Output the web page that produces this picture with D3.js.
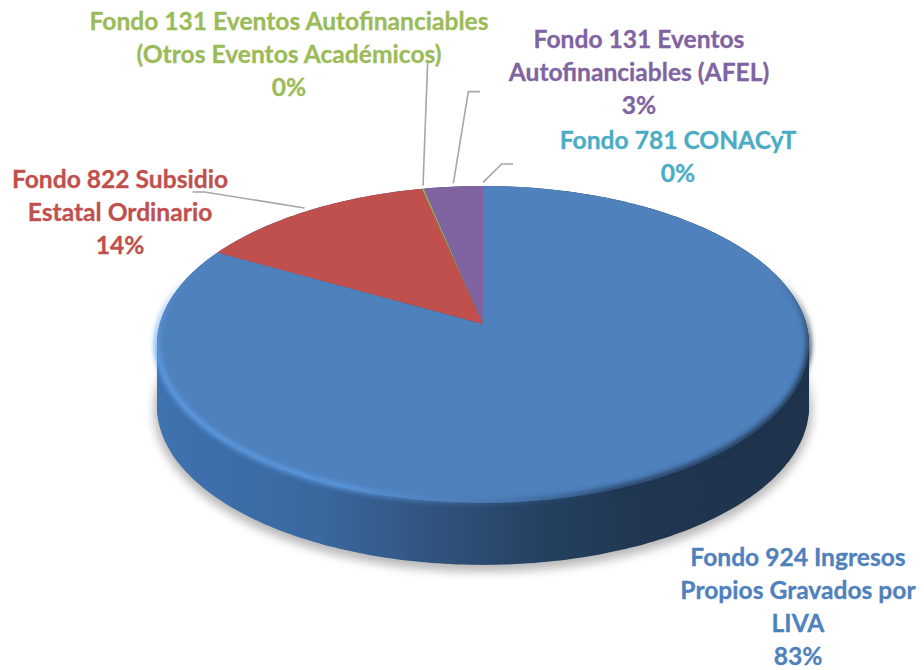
<!DOCTYPE html>
<html>
<head>
<meta charset="utf-8">
<script src="https://cdn.jsdelivr.net/npm/d3@7"></script>
<style>
  html, body { margin: 0; padding: 0; background: #fff; }
  text { font-family: Lato, sans-serif; font-weight: 700; font-size: 24.6px; stroke-width: 0.3px; }
</style>
</head>
<body>
<div id="chart"></div>
<script>
// Datos de la gráfica
const categories = [
  'Fondo 924 Ingresos Propios Gravados por LIVA',
  'Fondo 822 Subsidio Estatal Ordinario',
  'Fondo 131 Eventos Autofinanciables (Otros Eventos Académicos)',
  'Fondo 131 Eventos Autofinanciables (AFEL)',
  'Fondo 781 CONACyT'
];
const values = [83.1, 13.5, 0.1, 3.3, 0];
const colors = ['#4f81bd', '#c0504d', '#9bbb59', '#8064a2', '#4bacc6'];
const labelLines = [
  ['Fondo 924 Ingresos', 'Propios Gravados por', 'LIVA'],
  ['Fondo 822 Subsidio', 'Estatal Ordinario'],
  ['Fondo 131 Eventos Autofinanciables', '(Otros Eventos Académicos)'],
  ['Fondo 131 Eventos', 'Autofinanciables (AFEL)'],
  ['Fondo 781 CONACyT']
];

// Configuración
const width = 924, height = 670;
const cx = 483, cy = 324;
const R = 323.3, S = 155.8, k = 0.129, depth = 62;
const lineHeight = 33;

const labelPos = [
  { x: 798, y: 566 },
  { x: 120, y: 188 },
  { x: 289, y: 30 },
  { x: 639, y: 48 },
  { x: 678, y: 149 }
];
// Guías: desplazamientos desde el borde de cada sector
const leaders = [
  null,
  [[-4, -2.6], [-104, -18.6], [-116, -18.6]],
  [[0, -3], [4.7, -128.6]],
  [[0, -3.3], [15, -95], [26.5, -95]],
  [[0, -3.6], [18.7, -22], [30, -22]]
];

// Proyección en perspectiva de la elipse superior
const project = (t, dy = 0) => {
  const u = Math.sin(t), v = Math.cos(t), w = 1 + k * v;
  return [cx + R * u / w, cy + dy - S * v / w];
};

const pie = d3.pie().sort(null).value(d => d);
const arcs = pie(values);
const line = d3.line();

const ring = (dy = 0) => line(d3.range(0, 361, 1).map(a => project(a * Math.PI / 180, dy))) + 'Z';
const slicePath = d => {
  const n = Math.max(2, Math.ceil((d.endAngle - d.startAngle) * 60));
  const pts = d3.range(n + 1).map(i => project(d.startAngle + (d.endAngle - d.startAngle) * i / n));
  return line([[cx, cy], ...pts]) + 'Z';
};

// Crear SVG
const svg = d3.select('#chart').append('svg')
  .attr('width', width).attr('height', height)
  .style('display', 'block');

const defs = svg.append('defs');

const addGradient = (id, stops) => {
  const g = defs.append('linearGradient').attr('id', id)
    .attr('gradientUnits', 'userSpaceOnUse')
    .attr('x1', cx - R - 5).attr('x2', cx + R + 5).attr('y1', 0).attr('y2', 0);
  stops.forEach(s => g.append('stop').attr('offset', s[0]).attr('stop-color', s[1]).attr('stop-opacity', s[2] === undefined ? 1 : s[2]));
};
addGradient('wall', [[0, '#3f72b0'], [0.25, '#3a689f'], [0.45, '#2f5079'], [0.6, '#24405f'], [0.75, '#203650'], [1, '#1f334c']]);
addGradient('rim', [[0, '#5f9ee6'], [0.3, '#5c9ae2'], [0.45, '#5080b8', 0.6], [0.52, '#3f6a9c', 0.5], [0.7, '#1f3550', 0.9], [1, '#1c3048']]);

const blur = (id, sd) => defs.append('filter').attr('id', id)
  .attr('x', '-10%').attr('y', '-10%').attr('width', '120%').attr('height', '130%')
  .append('feGaussianBlur').attr('stdDeviation', sd);
blur('blurShadow', 5);
blur('blurRim', 2.5);

// Máscara para que el bisel aparezca poco a poco
const fade = defs.append('linearGradient').attr('id', 'rimFade')
  .attr('gradientUnits', 'userSpaceOnUse')
  .attr('x1', 0).attr('x2', 0).attr('y1', cy - 50).attr('y2', cy + 30);
fade.append('stop').attr('offset', 0).attr('stop-color', '#000');
fade.append('stop').attr('offset', 1).attr('stop-color', '#fff');
defs.append('mask').attr('id', 'rimMask')
  .attr('maskUnits', 'userSpaceOnUse')
  .attr('x', 0).attr('y', 0).attr('width', width).attr('height', height)
  .append('rect').attr('width', width).attr('height', height).attr('fill', 'url(#rimFade)');

// Sombra
svg.append('path').attr('d', ring(depth + 4))
  .attr('fill', '#8a8a8a').attr('stroke', '#8a8a8a').attr('stroke-width', 6)
  .attr('opacity', 0.6).attr('filter', 'url(#blurShadow)');

// Pared lateral
const wall = d3.range(0, depth + 1, 2);
svg.append('g').selectAll('path').data(wall).enter().append('path')
  .attr('d', d => ring(d))
  .attr('fill', 'url(#wall)');

// Sectores
svg.append('g').selectAll('path').data(arcs).enter().append('path')
  .attr('d', slicePath)
  .attr('fill', (d, i) => colors[i]);

// Bisel del borde inferior
svg.append('g').attr('mask', 'url(#rimMask)')
  .append('path').attr('d', ring(-1))
  .attr('fill', 'none').attr('stroke', 'url(#rim)').attr('stroke-width', 5)
  .attr('filter', 'url(#blurRim)');

// Guías
svg.append('g').selectAll('path').data(arcs).enter().append('path')
  .attr('d', (d, i) => {
    if (!leaders[i]) return null;
    const p = project((d.startAngle + d.endAngle) / 2);
    return line(leaders[i].map(o => [p[0] + o[0], p[1] + o[1]]));
  })
  .attr('fill', 'none').attr('stroke', '#a6a6a6').attr('stroke-width', 1.6);

// Etiquetas
const fmt = d3.format('.0f');
const labels = svg.append('g').selectAll('text').data(arcs).enter().append('text')
  .attr('text-anchor', 'middle')
  .attr('fill', (d, i) => colors[i])
  .attr('stroke', (d, i) => colors[i]);
labels.each(function(d, i) {
  const t = d3.select(this);
  [...labelLines[i], fmt(values[i]) + '%'].forEach((s, j) => {
    t.append('tspan')
      .attr('x', labelPos[i].x)
      .attr('y', labelPos[i].y + j * lineHeight)
      .text(s);
  });
});
</script>
</body>
</html>
